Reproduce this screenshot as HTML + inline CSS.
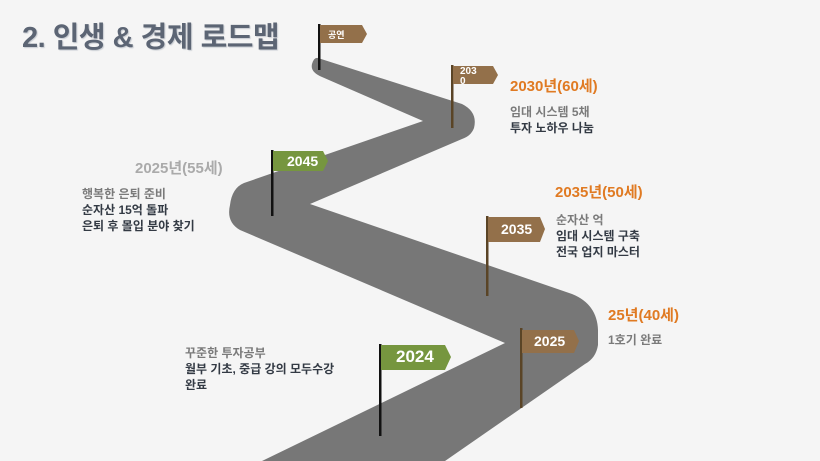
<!DOCTYPE html>
<html><head><meta charset="utf-8"><style>
html,body{margin:0;padding:0;}
body{width:820px;height:461px;background:#f5f5f5;position:relative;overflow:hidden;font-family:"Liberation Sans","Noto Sans CJK KR",sans-serif;}
.t{position:absolute;white-space:nowrap;font-weight:bold;}
.o{color:#e07a22;font-size:15px;}
.g{color:#7a7a7a;font-size:12px;}
.d{color:#333a44;font-size:12px;}
</style></head><body>
<svg width="820" height="461" style="position:absolute;left:0;top:0">
<path d="M318,58 L462,104 Q478,112 474,128 Q471,136 462,139 L310,204 L572,294 Q597,304 598,330 L598,345 Q596,358 585,364 L445,461 L262,461 L505,343 L240,230 Q226,222 230,205 Q232,188 244,183 L423,121 L322,77 Q310,72 312,64 Q314,57 318,58 Z" fill="#777"/>
<!-- poles -->
<rect x="318" y="24" width="2.5" height="46" fill="#111"/>
<rect x="451" y="65" width="2.5" height="63" fill="#5a4426"/>
<rect x="271" y="150" width="2.5" height="66" fill="#111"/>
<rect x="486" y="216" width="2.5" height="80" fill="#5a4426"/>
<rect x="520" y="328" width="2.5" height="80" fill="#5a4426"/>
<rect x="379" y="344" width="2.5" height="92" fill="#111"/>
<!-- flags -->
<path d="M320,25 L362,25 L367,34 L362,43 L320,43 Z" fill="#93704a"/>
<path d="M453,66 L493,66 L498,75 L493,84 L453,84 Z" fill="#93704a"/>
<path d="M273,151 L323,151 L328,161 L323,171 L273,171 Z" fill="#76963f"/>
<path d="M488,217 L540,217 L545,229 L540,242 L488,242 Z" fill="#93704a"/>
<path d="M522,330 L574,330 L579,341 L574,353 L522,353 Z" fill="#93704a"/>
<path d="M381,345 L445,345 L451,357 L445,370 L381,370 Z" fill="#76963f"/>
</svg>
<div class="t" style="left:22px;top:14px;font-size:29px;color:#5c6574;text-shadow:1px 1px 1px #c8ccd2;letter-spacing:-0.5px">2. 인생 &amp; 경제 로드맵</div>
<div class="t" style="left:328px;top:28px;font-size:9px;color:#fff">공연</div>
<div class="t" style="left:460px;top:67px;font-size:10px;color:#fff;line-height:10px">203<br>0</div>
<div class="t" style="left:287px;top:153px;font-size:14px;color:#fff">2045</div>
<div class="t" style="left:501px;top:221px;font-size:14px;color:#fff">2035</div>
<div class="t" style="left:534px;top:333px;font-size:14px;color:#fff">2025</div>
<div class="t" style="left:396px;top:347px;font-size:17px;color:#fff">2024</div>

<div class="t o" style="left:510px;top:75px">2030년(60세)</div>
<div class="t g" style="left:510px;top:103px">임대 시스템 5채</div>
<div class="t d" style="left:510px;top:119px">투자 노하우 나눔</div>

<div class="t" style="left:135px;top:157px;font-size:15px;color:#aaa">2025년(55세)</div>
<div class="t g" style="left:82px;top:185px">행복한 은퇴 준비</div>
<div class="t d" style="left:82px;top:201px">순자산 15억 돌파</div>
<div class="t d" style="left:82px;top:217px">은퇴 후 몰입 분야 찾기</div>

<div class="t o" style="left:555px;top:181px">2035년(50세)</div>
<div class="t g" style="left:556px;top:211px">순자산 억</div>
<div class="t d" style="left:556px;top:227px">임대 시스템 구축</div>
<div class="t d" style="left:556px;top:243px">전국 업지 마스터</div>

<div class="t o" style="left:608px;top:304px">25년(40세)</div>
<div class="t g" style="left:608px;top:331px">1호기 완료</div>

<div class="t g" style="left:185px;top:344px">꾸준한 투자공부</div>
<div class="t d" style="left:185px;top:360px">월부 기초, 중급 강의 모두수강</div>
<div class="t d" style="left:185px;top:376px">완료</div>
</body></html>
